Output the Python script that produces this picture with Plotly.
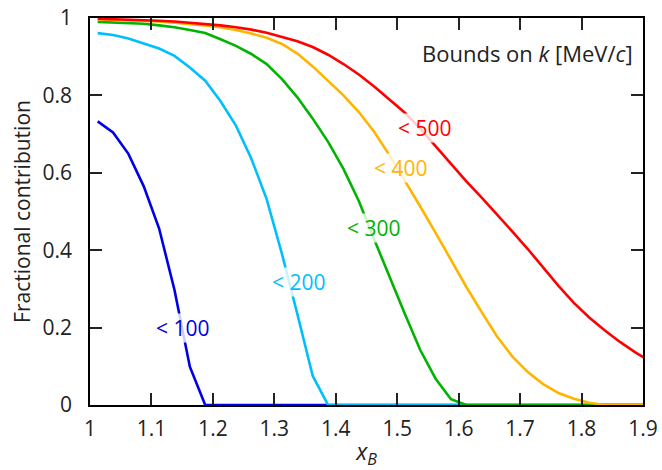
import plotly.graph_objects as go

X = [1.0125, 1.0375, 1.0625, 1.0875, 1.1125, 1.1375, 1.1625, 1.1875, 1.2125, 1.2375,
     1.2625, 1.2875, 1.3125, 1.3375, 1.3625, 1.3875, 1.4125, 1.4375, 1.4625, 1.4875,
     1.5125, 1.5375, 1.5625, 1.5875, 1.6125, 1.6375, 1.6625, 1.6875, 1.7125, 1.7375,
     1.7625, 1.7875, 1.8125, 1.8375, 1.8625, 1.8875, 1.9125]

k100 = [0.733, 0.704, 0.649, 0.565, 0.456, 0.297, 0.099, 0.0, 0.0, 0.0,
        0.0, 0.0, 0.0, 0.0, 0.0, 0.0, 0.0, 0.0, 0.0, 0.0,
        0.0, 0.0, 0.0, 0.0, 0.0, 0.0, 0.0, 0.0, 0.0, 0.0,
        0.0, 0.0, 0.0, 0.0, 0.0, 0.0, 0.0]
k200 = [0.961, 0.956, 0.947, 0.935, 0.921, 0.902, 0.872, 0.838, 0.785, 0.722,
        0.637, 0.532, 0.39, 0.235, 0.075, 0.0, 0.0, 0.0, 0.0, 0.0,
        0.0, 0.0, 0.0, 0.0, 0.0, 0.0, 0.0, 0.0, 0.0, 0.0,
        0.0, 0.0, 0.0, 0.0, 0.0, 0.0, 0.0]
k300 = [0.990, 0.988, 0.986, 0.985, 0.981, 0.976, 0.969, 0.961, 0.945, 0.928,
        0.907, 0.881, 0.842, 0.795, 0.74, 0.68, 0.61, 0.527, 0.428, 0.33,
        0.235, 0.142, 0.068, 0.015, 0.0, 0.0, 0.0, 0.0, 0.0, 0.0,
        0.0, 0.0, 0.0, 0.0, 0.0, 0.0, 0.0]
k400 = [0.996, 0.995, 0.994, 0.993, 0.991, 0.988, 0.985, 0.981, 0.976, 0.969,
        0.960, 0.949, 0.933, 0.908, 0.875, 0.838, 0.800, 0.757, 0.706, 0.645,
        0.58, 0.513, 0.445, 0.375, 0.305, 0.24, 0.177, 0.125, 0.085, 0.054,
        0.031, 0.016, 0.006, 0.0, 0.0, 0.0, 0.0]
k500 = [0.998, 0.997, 0.996, 0.995, 0.993, 0.991, 0.988, 0.985, 0.981, 0.976,
        0.970, 0.962, 0.952, 0.940, 0.925, 0.905, 0.881, 0.854, 0.823, 0.790,
        0.755, 0.714, 0.669, 0.623, 0.578, 0.536, 0.493, 0.448, 0.403, 0.356,
        0.308, 0.264, 0.226, 0.193, 0.163, 0.136, 0.112]

series = [
    ("< 100", k100, "#0000e6", 1.151, 0.199),
    ("< 200", k200, "#00bfff", 1.340, 0.317),
    ("< 300", k300, "#00b400", 1.461, 0.457),
    ("< 400", k400, "#ffb400", 1.505, 0.612),
    ("< 500", k500, "#ff0000", 1.544, 0.717),
]

FONT = "Open Sans"
fig = go.Figure()
for name, ys, col, lx, ly in series:
    fig.add_trace(go.Scatter(x=X, y=ys, mode="lines", name=name,
                             line=dict(color=col, width=2.6),
                             showlegend=False))
    fig.add_annotation(x=lx, y=ly, text=name, showarrow=False,
                       font=dict(family=FONT, size=21, color=col),
                       bgcolor="rgba(255,255,255,0.8)", borderpad=0)

fig.add_annotation(xref="paper", yref="paper", x=0.985, y=0.91, xanchor="right",
                   yanchor="middle", showarrow=False,
                   text="Bounds on <i>k</i> [MeV/<i>c</i>]",
                   font=dict(family=FONT, size=22, color="#222"))

axis_common = dict(showline=True, linecolor="black", linewidth=1.5, mirror="ticks",
                   ticks="inside", ticklen=12, tickwidth=1.5, tickcolor="#222",
                   showgrid=False, zeroline=False, automargin=False,
                   tickfont=dict(family=FONT, size=21, color="#222"))

fig.update_xaxes(range=[1, 1.9], tickvals=[1, 1.1, 1.2, 1.3, 1.4, 1.5, 1.6, 1.7, 1.8, 1.9],
                 ticktext=["1", "1.1", "1.2", "1.3", "1.4", "1.5", "1.6", "1.7", "1.8", "1.9"],
                 ticklabelstandoff=4,
                 title=dict(text="<i>x</i><sub><i>B</i></sub>", standoff=4,
                            font=dict(family=FONT, size=23, color="#222")),
                 **axis_common)
fig.update_yaxes(range=[0, 1], tickvals=[0, 0.2, 0.4, 0.6, 0.8, 1],
                 ticktext=["0", "0.2", "0.4", "0.6", "0.8", "1"],
                 ticklabelstandoff=12,
                 title=dict(text="Fractional contribution", standoff=6,
                            font=dict(family=FONT, size=21, color="#222")),
                 **axis_common)

fig.update_layout(width=662, height=470, margin=dict(l=90, r=19, t=18, b=65, pad=0),
                  plot_bgcolor="white", paper_bgcolor="white")

fig.write_html("out.html")
